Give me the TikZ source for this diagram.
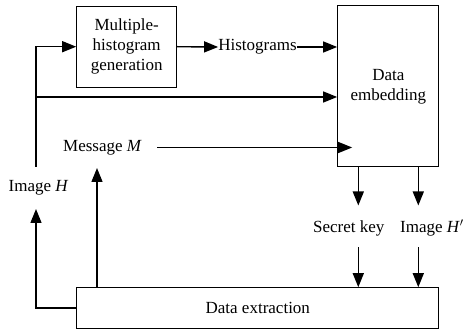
\documentclass[tikz,border=0pt]{standalone}
\usepackage{fontspec}
\setmainfont{Liberation Serif}
\usepackage{tikz}
\usetikzlibrary{arrows.meta}

\begin{document}
\begin{tikzpicture}[x=1pt, y=-1pt,
  font=\fontsize{17}{20}\selectfont,
  block/.style={draw, line width=1pt, align=center, inner sep=0pt},
  tag/.style={inner sep=0pt},
  flow/.style={-{Triangle[length=14pt,width=11pt]}, line width=1.4pt}]
\useasboundingbox (0,0) rectangle (464,331);

% the three blocks
\node[block, minimum width=100, minimum height=81] (gen) at (126.7,46.7) {Multiple-\\histogram\\generation};
\node[block, minimum width=101.3, minimum height=160.7] (embed) at (388.3,86.3) {Data\\embedding};
\node[block, minimum width=362.3, minimum height=40.6] (extract) at (257.8,308) {Data extraction};

% labels on the lines
\node[tag] (hist) at (257.5,47) {Histograms};
\node[tag] (msg) at (102.5,147.5) {Message \textit{M}};
\node[tag] (img) at (38.5,188) {Image \textit{H}};
\node[tag] (key) at (348.7,228) {Secret key};
\node[tag] (marked) at (432,228) {Image \textit{H}$'$};

\coordinate (split) at (36,167);
\coordinate (tap) at (36,97);
\coordinate (back) at (36,209);
\coordinate (msgin) at (97,168);
\coordinate (keyout) at (358.3,205.5);
\coordinate (keyin) at (358.3,247.5);
\coordinate (imgout) at (418.3,205.5);
\coordinate (imgin) at (418.3,247.5);

% embedding side
\draw[flow] (split) |- (gen.west);
\draw[flow] (gen.east) -- (hist.west);
\draw[flow] (hist.east) -- (hist.east -| embed.west);
\draw[flow] (tap) -- (tap -| embed.west);
\draw[flow] ([xshift=15]msg.east) -- ([xshift=15]msg.east -| embed.west);

\draw[flow] (embed.south -| keyout) -- (keyout);
\draw[flow] (embed.south -| imgout) -- (imgout);
\draw[flow] (keyin) -- (keyin |- extract.north);
\draw[flow] (imgin) -- (imgin |- extract.north);

% extraction side
\draw[flow] (extract.north -| msgin) -- (msgin);
\draw[flow] (extract.west) -| (back);
\end{tikzpicture}
\end{document}
